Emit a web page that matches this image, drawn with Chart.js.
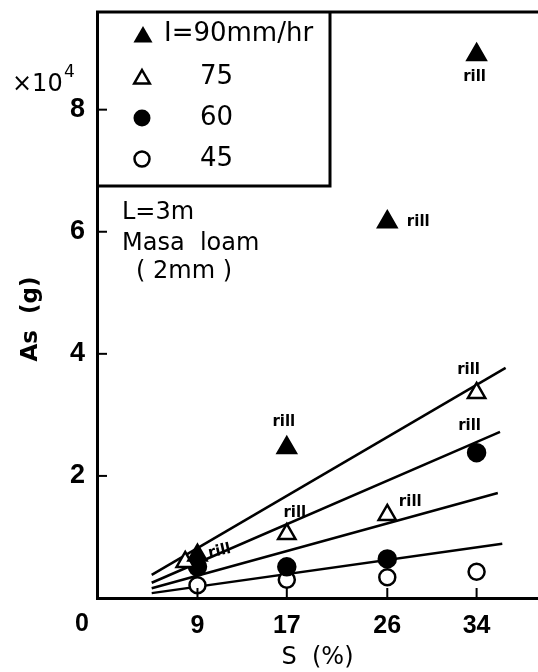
<!DOCTYPE html>
<html>
<head>
<meta charset="utf-8">
<script src="https://cdn.jsdelivr.net/npm/chart.js@4.4.0/dist/chart.umd.min.js"></script>
<style>
  html, body { margin: 0; padding: 0; background: #fff; }
  #wrap { width: 538px; height: 672px; }
</style>
</head>
<body>
<div id="wrap"><canvas id="chart" width="538" height="672"></canvas></div>
<script>
// slope S (%) and soil loss As (x10^4 g)
const xTicks = [9, 17, 26, 34];
const yTicks = [2, 4, 6, 8];
const slope = [9, 17, 26, 34];
const slope75 = [7.9, 17, 26, 34];
const as90 = [0.70, 2.46, 6.16, 8.9];
const as75 = [0.59, 1.05, 1.36, 3.36];
const as60 = [0.51, 0.51, 0.64, 2.38];
const as45 = [0.21, 0.30, 0.34, 0.43];

// fitted lines (start / end)
const fitA = [[4.9, 0.38], [36.6, 3.77]];
const fitB = [[4.9, 0.25], [36.1, 2.72]];
const fitC = [[4.9, 0.16], [35.9, 1.72]];
const fitD = [[4.9, 0.08], [36.3, 0.89]];

// "rill" notes: which point they belong to
const rillPoints = [
  [34, 8.9], [26, 6.16], [17, 2.46], [9, 0.70],
  [34, 3.36], [17, 1.05], [26, 1.36], [34, 2.38]
];
const legendItems = ["I=90mm/hr", "75", "60", "45"];

const FONT = "'DejaVu Sans', sans-serif";
const TICKFONT = "'Liberation Sans', Arial, sans-serif";

function toPts(xs, ys) {
  return xs.map((x, i) => ({ x: x, y: ys[i] }));
}
function fitPts(f) {
  return f.map(p => ({ x: p[0], y: p[1] }));
}

const markerDefaults = {
  showLine: false,
  borderColor: "#000",
  borderWidth: 2.5,
  order: 0,
};

function lineSet(f) {
  return {
    data: fitPts(f),
    showLine: true,
    borderColor: "#000",
    borderWidth: 2.5,
    pointRadius: 0,
    order: 1,
  };
}

function tri(ctx, x, y, r, filled) {
  ctx.beginPath();
  ctx.moveTo(x, y - r);
  ctx.lineTo(x + r * 0.866, y + r / 2);
  ctx.lineTo(x - r * 0.866, y + r / 2);
  ctx.closePath();
  if (filled) { ctx.fillStyle = "#000"; ctx.fill(); }
  else { ctx.fillStyle = "#fff"; ctx.fill(); ctx.stroke(); }
}
function circ(ctx, x, y, r, filled) {
  ctx.beginPath();
  ctx.arc(x, y, r, 0, Math.PI * 2);
  if (filled) { ctx.fillStyle = "#000"; ctx.fill(); }
  else { ctx.fillStyle = "#fff"; ctx.fill(); ctx.stroke(); }
}

const overlay = {
  id: "overlay",
  afterDraw(chart) {
    const ctx = chart.ctx;
    const xs = chart.scales.x, ys = chart.scales.y;
    const area = chart.chartArea;
    ctx.save();
    ctx.strokeStyle = "#000";

    // top frame line
    ctx.lineWidth = 3;
    ctx.beginPath();
    ctx.moveTo(area.left - 1, area.top);
    ctx.lineTo(area.right, area.top);
    ctx.stroke();

    // inward tick marks
    ctx.lineWidth = 2;
    yTicks.forEach(v => {
      const py = ys.getPixelForValue(v);
      ctx.beginPath();
      ctx.moveTo(area.left, py);
      ctx.lineTo(area.left + 10, py);
      ctx.stroke();
    });
    xTicks.forEach(v => {
      const px = xs.getPixelForValue(v);
      ctx.beginPath();
      ctx.moveTo(px, area.bottom);
      ctx.lineTo(px, area.bottom - 10);
      ctx.stroke();
    });

    // legend box
    ctx.lineWidth = 3;
    ctx.beginPath();
    ctx.moveTo(area.left, 186);
    ctx.lineTo(330, 186);
    ctx.lineTo(330, area.top);
    ctx.stroke();

    ctx.lineWidth = 2.5;
    const rows = [34, 77, 118, 159];
    tri(ctx, 143, rows[0] + 3, 11, true);
    tri(ctx, 142, rows[1] + 2, 9, false);
    circ(ctx, 142, rows[2], 8.5, true);
    circ(ctx, 142, rows[3], 7.5, false);

    ctx.fillStyle = "#000";
    ctx.textBaseline = "middle";
    ctx.textAlign = "left";
    ctx.font = "26px " + FONT;
    ctx.fillText(legendItems[0], 164, rows[0]);
    for (let i = 1; i < 4; i++) ctx.fillText(legendItems[i], 200, rows[i]);

    // plot notes
    ctx.font = "24px " + FONT;
    ctx.fillText("L=3m", 122, 213);
    ctx.fillText("Masa  loam", 122, 244);
    ctx.fillText("( 2mm )", 136, 272);

    // multiplier and origin label
    ctx.font = "24px " + FONT;
    ctx.fillText("×10", 12, 85);
    ctx.font = "17px " + FONT;
    ctx.fillText("4", 64, 73);
    ctx.font = "bold 25px " + TICKFONT;
    ctx.textAlign = "center";
    ctx.fillText("0", 82, 624);

    // y title
    ctx.save();
    ctx.translate(31, 319);
    ctx.rotate(-Math.PI / 2);
    ctx.font = "bold 23px " + FONT;
    ctx.fillText("As  (g)", 0, 0);
    ctx.restore();

    // rill labels
    const offs = [[-2, 22, 0], [31, 0, 0], [-3, -26, 0], [22, -4, -0.22],
                  [-8, -23, 0], [8, -21, 0], [23, -13, 0], [-7, -27, 0]];
    ctx.font = "bold 15px " + FONT;
    rillPoints.forEach((p, i) => {
      const px = xs.getPixelForValue(p[0]) + offs[i][0];
      const py = ys.getPixelForValue(p[1]) + offs[i][1];
      ctx.save();
      ctx.translate(px, py);
      ctx.rotate(offs[i][2]);
      ctx.fillText("rill", 0, 0);
      ctx.restore();
    });
    ctx.restore();
  },
};

const ctx = document.getElementById("chart").getContext("2d");
new Chart(ctx, {
  type: "scatter",
  data: {
    datasets: [
      Object.assign({}, markerDefaults, {
        label: "90", data: toPts(slope, as90),
        pointStyle: "triangle", pointRadius: 10.5, backgroundColor: "#000",
      }),
      Object.assign({}, markerDefaults, {
        label: "75", data: toPts(slope75, as75),
        pointStyle: "triangle", pointRadius: 10, backgroundColor: "#fff",
      }),
      Object.assign({}, markerDefaults, {
        label: "60", data: toPts(slope, as60),
        pointStyle: "circle", pointRadius: 8.5, backgroundColor: "#000",
      }),
      Object.assign({}, markerDefaults, {
        label: "45", data: toPts(slope, as45),
        pointStyle: "circle", pointRadius: 8, backgroundColor: "#fff",
      }),
      lineSet(fitA),
      lineSet(fitB),
      lineSet(fitC),
      lineSet(fitD),
    ],
  },
  options: {
    responsive: false,
    animation: false,
    devicePixelRatio: 1,
    layout: { autoPadding: false, padding: { top: 12, right: 0, left: 0, bottom: 0 } },
    plugins: {
      legend: { display: false },
      tooltip: { enabled: false },
    },
    scales: {
      x: {
        type: "linear",
        min: 0,
        max: 39.5,
        afterBuildTicks: (s) => { s.ticks = xTicks.map(v => ({ value: v })); },
        afterFit: (s) => { s.height = 74; s.paddingLeft = 0; s.paddingRight = 0; },
        grid: { display: false, drawTicks: false },
        border: { display: true, color: "#000", width: 3 },
        ticks: {
          color: "#000",
          padding: 13,
          font: { family: TICKFONT, size: 25, weight: "bold" },
        },
        title: {
          display: true,
          text: "S  (%)",
          color: "#000",
          padding: { top: 0, bottom: 0 },
          font: { family: FONT, size: 24 },
        },
      },
      y: {
        type: "linear",
        min: 0,
        max: 9.6,
        afterBuildTicks: (s) => { s.ticks = yTicks.map(v => ({ value: v })); },
        afterFit: (s) => { s.width = 97; s.paddingTop = 0; s.paddingBottom = 0; },
        grid: { display: false, drawTicks: false },
        border: { display: true, color: "#000", width: 3 },
        ticks: {
          color: "#000",
          padding: 12,
          font: { family: TICKFONT, size: 27, weight: "bold" },
        },
      },
    },
  },
  plugins: [overlay],
});
</script>
</body>
</html>
